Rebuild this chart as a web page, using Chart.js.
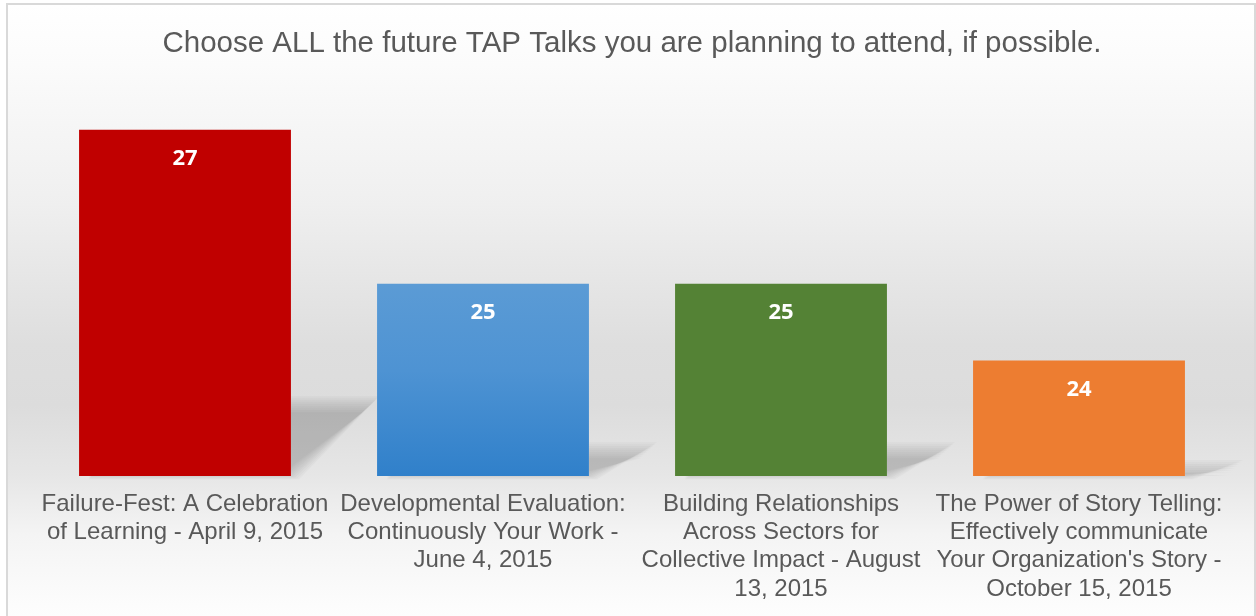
<!DOCTYPE html>
<html>
<head>
<meta charset="utf-8">
<script src="https://cdn.jsdelivr.net/npm/chart.js@4"></script>
<style>
  html, body { margin: 0; padding: 0; background: #fff; }
  body { width: 1256px; height: 616px; position: relative; overflow: hidden; }
  #frame {
    position: absolute; left: 6px; top: 3px; width: 1246px; height: 640px;
    border: 2px solid #d9d9d9;
    background: linear-gradient(to bottom, #ffffff 0px, #fbfbfb 60px, #efefef 200px, #dedede 340px, #dcdcdc 400px, #e6e6e6 470px, #f4f4f4 530px, #fcfcfc 600px, #ffffff 640px);
  }
  #wrap { position: absolute; left: 0; top: 0; width: 1256px; height: 616px; }
</style>
</head>
<body>
<div id="frame"></div>
<div id="wrap"><canvas id="myChart" width="1256" height="616"></canvas></div>
<script>
const chart = document.querySelector('#myChart');

// data
const titleText = 'Choose ALL the future TAP Talks you are planning to attend, if possible.';
const talkLabels = [
    ['Failure-Fest: A Celebration', 'of Learning - April 9, 2015'],
    ['Developmental Evaluation:', 'Continuously Your Work -', 'June 4, 2015'],
    ['Building Relationships', 'Across Sectors for', 'Collective Impact - August', '13, 2015'],
    ['The Power of Story Telling:', 'Effectively communicate', "Your Organization's Story -", 'October 15, 2015']
];
const attendCounts = [27, 25, 25, 24];
const barColors = ['#C00000', 'blue', '#548235', '#ED7D31'];

const greyText = '#595959';

function barFill(ctx) {
    const c = barColors[ctx.dataIndex];
    if (c !== 'blue') return c;
    const ch = ctx.chart;
    const y = ch.scales.y;
    if (!y || !ch.chartArea) return '#4A90D0';
    const top = y.getPixelForValue(attendCounts[ctx.dataIndex]);
    const bottom = y.getPixelForValue(y.min);
    const g = ch.ctx.createLinearGradient(0, top, 0, bottom);
    g.addColorStop(0, '#5B9BD5');
    g.addColorStop(0.45, '#4E93D3');
    g.addColorStop(1, '#3080CA');
    return g;
}

// perspective shadow behind each bar, soft edges from stacked faint layers,
// painted under what is already on the canvas
const shadowPlugin = {
    id: 'barShadow',
    afterDatasetsDraw(c) {
        const meta = c.getDatasetMeta(0);
        const ctx = c.ctx;
        const base = c.chartArea.bottom;
        ctx.save();
        ctx.globalCompositeOperation = 'destination-over';
        ctx.fillStyle = 'rgba(0,0,0,0.025)';
        meta.data.forEach(bar => {
            const h = base - bar.y;
            const w = 212 * (c.chartArea.width / 1192);
            const dx = 35 + 0.13 * h;
            const dy = Math.max(8, 0.3 * h - 32);
            const l = bar.x - w / 2, r = bar.x + w / 2;
            for (let e = 8; e >= -8; e -= 2) {
                ctx.beginPath();
                ctx.moveTo(l + 10, base + e * 0.4);
                ctx.lineTo(r + e, base + e * 0.4);
                ctx.lineTo(r + dx + e, base - dy - e);
                ctx.lineTo(l + dx, base - dy - e);
                ctx.closePath();
                ctx.fill();
            }
        });
        ctx.restore();
    }
};

// value labels inside the bars
const valuePlugin = {
    id: 'valueLabels',
    afterDatasetsDraw(c) {
        const meta = c.getDatasetMeta(0);
        const ctx = c.ctx;
        ctx.save();
        ctx.font = 'bold 22px "Open Sans", sans-serif';
        ctx.fillStyle = '#ffffff';
        ctx.textAlign = 'center';
        ctx.textBaseline = 'middle';
        meta.data.forEach((bar, i) => {
            ctx.fillText(String(attendCounts[i]), bar.x, bar.y + 29);
        });
        ctx.restore();
    }
};

const myChart = new Chart(chart, {
    type: 'bar',
    data: {
        labels: talkLabels,
        datasets: [{
            data: attendCounts,
            backgroundColor: barFill,
            borderWidth: 0,
            categoryPercentage: 0.711,
            barPercentage: 1
        }]
    },
    options: {
        responsive: false,
        animation: false,
        devicePixelRatio: 1,
        layout: { padding: { left: 36, right: 28, top: 0, bottom: 0 } },
        plugins: {
            legend: { display: false },
            tooltip: { enabled: false },
            title: {
                display: true,
                text: titleText,
                color: greyText,
                font: { family: 'Arial, "Liberation Sans", sans-serif', size: 29.5, weight: 'normal', lineHeight: 1.2 },
                padding: { top: 26, bottom: 30 }
            }
        },
        scales: {
            x: {
                grid: { display: false },
                border: { display: false },
                afterFit: (s) => { s.height = 140; },
                ticks: {
                    color: greyText,
                    font: { family: 'Arial, "Liberation Sans", sans-serif', size: 24, lineHeight: 1.18 },
                    maxRotation: 0,
                    minRotation: 0,
                    autoSkip: false,
                    padding: 6
                }
            },
            y: {
                display: false,
                min: 22.5,
                max: 27.5
            }
        }
    },
    plugins: [shadowPlugin, valuePlugin]
});
</script>
</body>
</html>
